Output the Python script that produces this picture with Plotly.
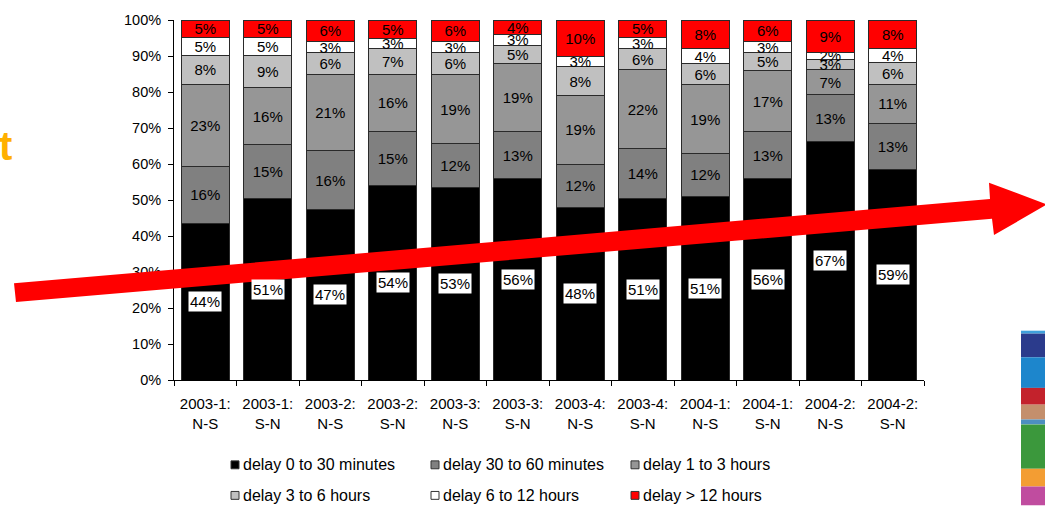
import plotly.graph_objects as go

# Quarter and direction for each column
periods = ["2003-1", "2003-1", "2003-2", "2003-2", "2003-3", "2003-3",
           "2003-4", "2003-4", "2004-1", "2004-1", "2004-2", "2004-2"]
directions = ["N-S", "S-N", "N-S", "S-N", "N-S", "S-N",
              "N-S", "S-N", "N-S", "S-N", "N-S", "S-N"]

# Share of trains (%) per delay class
delay_0_30m = [44, 51, 47, 54, 53, 56, 48, 51, 51, 56, 67, 59]
delay_30_60m = [16, 15, 16, 15, 12, 13, 12, 14, 12, 13, 13, 13]
delay_1_3h = [23, 16, 21, 16, 19, 19, 19, 22, 19, 17, 7, 11]
delay_3_6h = [8, 9, 6, 7, 6, 5, 8, 6, 6, 5, 3, 6]
delay_6_12h = [5, 5, 3, 3, 3, 3, 3, 3, 4, 3, 2, 4]
delay_12h_plus = [5, 5, 6, 5, 6, 4, 10, 5, 8, 6, 9, 8]

series_names = ["delay 0 to 30 minutes", "delay 30 to 60 minutes", "delay 1 to 3 hours",
                "delay 3 to 6 hours", "delay 6 to 12 hours", "delay > 12 hours"]
series_values = [delay_0_30m, delay_30_60m, delay_1_3h, delay_3_6h, delay_6_12h, delay_12h_plus]
series_colors = ["#000000", "#808080", "#969696", "#c0c0c0", "#ffffff", "#ff0000"]

categories = [f"{p}:<br>{d}" for p, d in zip(periods, directions)]
totals = [sum(col) for col in zip(*series_values)]

FONT = "Liberation Sans, Arial, sans-serif"
W, H = 1045, 507
L, R, T, B = 174, 924, 15, 380


def px(x):
    return (x - L) / (R - L)


def py(y):
    return (B - y) / (B - T)


fig = go.Figure()
for i, (name, vals, col) in enumerate(zip(series_names, series_values, series_colors)):
    fig.add_trace(go.Bar(
        x=categories, y=vals, name=name,
        marker=dict(color=col, line=dict(color="#2a2a2a", width=1)),
        text=None if i == 0 else [f"{v}%" for v in vals],
        textposition="inside", insidetextanchor="middle",
        textangle=0, constraintext="none",
        textfont=dict(family=FONT, size=15, color="#000000"),
        showlegend=False,
    ))

annotations = []
# labels of the bottom (black) segments on white boxes, centred in the normalised segment
for c, v, tot in zip(categories, delay_0_30m, totals):
    annotations.append(dict(
        x=c, y=v / tot * 100 / 2, xref="x", yref="y", text=f"{v}%", showarrow=False,
        font=dict(family=FONT, size=15, color="#000000"),
        bgcolor="#ffffff", borderpad=1,
    ))

shapes = []
# legend: two rows of three entries
for i, (name, col) in enumerate(zip(series_names, series_colors)):
    row, colno = divmod(i, 3)
    sx = 231 + 200 * colno
    cy = 466 + 31 * row
    shapes.append(dict(type="rect", xref="paper", yref="paper",
                       x0=px(sx), x1=px(sx + 8), y0=py(cy + 4), y1=py(cy - 4),
                       fillcolor=col, line=dict(color="#333333", width=1)))
    annotations.append(dict(
        x=px(sx + 10), y=py(cy), xref="paper", yref="paper",
        xanchor="left", yanchor="middle", text=name, showarrow=False,
        font=dict(family=FONT, size=16, color="#000000"),
    ))

# trend arrow
arrow_pts = [(14, 282), (990, 196.5), (989, 180), (1047, 202), (994, 233), (992, 216.5), (16, 301)]
path = "M " + " L ".join(f"{px(x):.5f},{py(y):.5f}" for x, y in arrow_pts) + " Z"
shapes.append(dict(type="path", xref="paper", yref="paper", path=path,
                   fillcolor="#ff0000", line=dict(width=0), layer="above"))

# coloured strip at the right edge of the slide
strip = [(330, 333, "#3fa0dc"), (333, 357, "#2b3b8c"), (357, 388, "#1d86cc"),
         (388, 405, "#c3222c"), (405, 420, "#c48f6c"), (420, 425, "#4d8fbf"),
         (425, 470, "#3b983c"), (470, 488, "#f39d33"), (488, 507, "#c04c9f")]
for y0, y1, col in strip:
    shapes.append(dict(type="rect", xref="paper", yref="paper",
                       x0=px(1021), x1=px(1046), y0=py(y1), y1=py(y0),
                       fillcolor=col, line=dict(width=0), layer="below"))

# cut-off heading letter
annotations.append(dict(
    x=px(13.5), y=py(143), xref="paper", yref="paper", xanchor="right", yanchor="middle",
    text="<b>t</b>", showarrow=False,
    font=dict(family=FONT, size=40, color="#ffb000"),
))

fig.update_layout(
    width=W, height=H,
    margin=dict(l=L, r=W - R, t=T, b=H - B),
    barmode="stack", barnorm="percent", bargap=0.23,
    plot_bgcolor="#ffffff", paper_bgcolor="#ffffff",
    font=dict(family=FONT, size=15, color="#000000"),
    annotations=annotations, shapes=shapes,
    showlegend=False,
)
fig.update_xaxes(
    type="category", tickson="boundaries", ticks="outside", ticklen=5,
    tickcolor="#000000", showline=True, linecolor="#000000", linewidth=1,
    showgrid=False, tickfont=dict(family=FONT, size=15), ticklabelstandoff=10,
)
fig.update_yaxes(
    range=[0, 100], dtick=10, ticksuffix="%", ticks="outside", ticklen=5,
    tickcolor="#000000", showline=True, linecolor="#000000", linewidth=1,
    showgrid=False, zeroline=False, tickfont=dict(family=FONT, size=14.5),
    ticklabelstandoff=4,
)

fig.write_html("out.html")
